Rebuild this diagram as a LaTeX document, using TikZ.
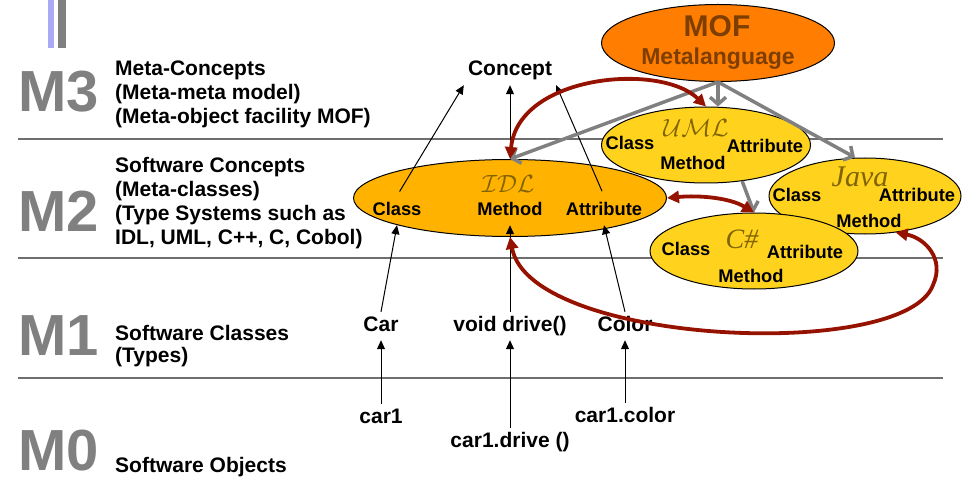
\documentclass[tikz,border=0pt]{standalone}
\usepackage{fontspec}
\setmainfont{Liberation Sans}
\newfontfamily\langserif{Liberation Serif}
\usetikzlibrary{arrows.meta,shapes.geometric}

\definecolor{levelgray}{RGB}{128,128,128}
\definecolor{rulegray}{RGB}{110,110,110}
\definecolor{barblue}{RGB}{170,170,245}
\definecolor{moforange}{RGB}{255,125,0}
\definecolor{mofbrown}{RGB}{125,62,0}
\definecolor{idlorange}{RGB}{255,178,0}
\definecolor{langyellow}{RGB}{255,210,30}
\definecolor{langolive}{RGB}{128,100,0}
\definecolor{linkred}{RGB}{150,18,0}

\newcommand{\lvlnum}{\fontsize{58}{58}\selectfont\bfseries}
\newcommand{\lvltext}{\fontsize{21}{24}\selectfont\bfseries}
\newcommand{\ovaltext}{\fontsize{18.3}{20}\selectfont\bfseries}

\tikzset{
    mnum/.style={anchor=base west,inner sep=0pt,text=levelgray,font=\lvlnum},
    mdesc/.style={anchor=base west,align=left,inner sep=0pt,font=\lvltext},
    item/.style={anchor=base,font=\lvltext,text height=15pt,text depth=5pt,inner sep=4pt},
    oval/.style={ellipse,draw=black,line width=1pt,inner sep=0pt},
    feat/.style={anchor=base,font=\ovaltext,text height=14pt,text depth=5pt,inner sep=5pt},
    langname/.style={anchor=base,inner sep=0pt,text=langolive},
    instof/.style={-{Triangle[length=9pt,width=8pt]},line width=1pt},
    gen/.style={draw=levelgray,line width=3.5pt,-{Straight Barb[length=7pt,width=16pt]}},
    map/.style={draw=linkred,line width=3.8pt,
        {Triangle[length=12pt,width=12pt]}-{Triangle[length=12pt,width=12pt]}}
}

\begin{document}
\begin{tikzpicture}[x=1pt,y=-1pt]
    \useasboundingbox (0,0) rectangle (973,478);

    % Slide decoration:
    \fill [barblue]   (48,0) rectangle (54,48);
    \fill [levelgray] (58,0) rectangle (66,48);

    % Level separators:
    \foreach \y in {139,258,378}{%
        \draw [rulegray,line width=1.3pt] (18,\y) -- (943,\y);
    }

    % Level names:
    % (a multi-line node sits on the baseline of its last line)
    \node [mnum] (m3) at (18,112) {M3};
    \node [mnum] (m2) at (18,232) {M2};
    \node [mnum] (m1) at (18,355) {M1};
    \node [mnum] (m0) at (18,470) {M0};
    \node [mdesc] (m3d) at (115,124) {Meta-Concepts\\(Meta-meta model)\\(Meta-object facility MOF)};
    \node [mdesc] (m2d) at (115,244) {Software Concepts\\(Meta-classes)\\(Type Systems such as\\IDL, UML, C++, C, Cobol)};
    \node [mdesc] (m1d) at (115,362) {Software Classes\\[-2pt](Types)};
    \node [mdesc] (m0d) at (115,472) {Software Objects};

    % Ovals:
    \node [oval,fill=moforange,minimum width=233pt,minimum height=77pt]  (mof)    at (718,43)  {};
    \node [oval,fill=idlorange,minimum width=313pt,minimum height=77pt]  (idl)    at (510,198) {};
    \node [oval,fill=langyellow,minimum width=209pt,minimum height=76pt] (uml)    at (706,145) {};
    \node [oval,fill=langyellow,minimum width=192pt,minimum height=76pt] (java)   at (865,196) {};
    \node [oval,fill=langyellow,minimum width=208pt,minimum height=76pt] (csharp) at (754,251) {};

    % Oval texts:
    \node [anchor=base,inner sep=0pt,text=mofbrown,font=\fontsize{30}{30}\selectfont\bfseries] (mofname) at (717,37) {MOF};
    \node [anchor=base,inner sep=0pt,text=mofbrown,font=\fontsize{23}{23}\selectfont\bfseries] (mofsub)  at (718,65) {Metalanguage};

    \node [langname,font=\fontsize{25}{25}\selectfont] (idlname) at (508,193) {$\mathcal{IDL}$};
    \node [feat] (idlcls) at (397,215) {Class};
    \node [feat] (idlmth) at (510,215) {Method};
    \node [feat] (idlatt) at (604,215) {Attribute};

    \node [langname,font=\fontsize{26}{26}\selectfont] (umlname) at (696,137) {$\mathcal{UML}$};
    \node [feat] (umlcls) at (630,150) {Class};
    \node [feat] (umlmth) at (693,170) {Method};
    \node [feat] (umlatt) at (765,153) {Attribute};

    \node [langname,font=\fontsize{30}{30}\selectfont\langserif\itshape] (javaname) at (860,187) {Java};
    \node [feat] (javacls) at (797,202) {Class};
    \node [feat] (javamth) at (869,227) {Method};
    \node [feat] (javaatt) at (917,202) {Attribute};

    \node [langname,font=\fontsize{28}{28}\selectfont\langserif\itshape] (csname) at (742,248) {C\#};
    \node [feat] (cscls) at (686,255) {Class};
    \node [feat] (csmth) at (751,282) {Method};
    \node [feat] (csatt) at (805,258) {Attribute};

    % M3, M1 and M0 items:
    \node [item] (concept)   at (510,76)  {Concept};
    \node [item] (car)       at (381,331) {Car};
    \node [item] (drive)     at (510,331) {void drive()};
    \node [item] (color)     at (625,331) {Color};
    \node [item] (car1)      at (381,423) {car1};
    \node [item] (car1drive) at (510,447) {car1.drive ()};
    \node [item] (car1color) at (625,422) {car1.color};

    % Instance-of arrows:
    \draw [instof,shorten <=5pt] (idlcls.north) -- (concept.south west);
    \draw [instof] (idl.north) -- (concept.south);
    \draw [instof,shorten <=5pt] (idlatt.north) -- (concept.south east);
    \draw [instof] (car.north)   -- (idlcls.south);
    \draw [instof] (drive.north) -- (idlmth.south);
    \draw [instof] (color.north) -- (idlatt.south);
    \draw [instof] (car1.north)      -- (car.south);
    \draw [instof] (car1drive.north) -- (drive.south);
    \draw [instof] (car1color.north) -- (color.south);

    % MOF defines the languages:
    \draw [gen] (mof.south) -- (idl.north);
    \draw [gen] (mof.south) -- (mof.south |- uml.north);
    \draw [gen] (mof.south) -- ([xshift=-10pt]java.north);
    \draw [gen] (uml.315) -- (csharp.north);

    % Mappings between the languages:
    \draw [map] (idl.north) .. controls (518,75) and (660,62) .. (uml.north);
    \draw [map] (idl.east) .. controls (700,195) and (730,198) .. (csharp.north);
    \draw [map] (idl.south) .. controls (530,345) and (905,362) .. (933,285)
                            .. controls (945,259) and (925,238) .. (java.310);
\end{tikzpicture}
\end{document}
